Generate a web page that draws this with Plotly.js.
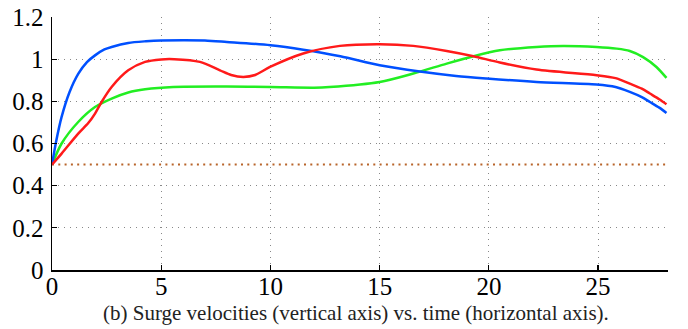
<!DOCTYPE html>
<html>
<head>
<meta charset="utf-8">
<script src="https://cdn.plot.ly/plotly-3.0.1.min.js"></script>
<style>html,body{margin:0;padding:0;background:#fff;}#chart{width:688px;height:329px;}</style>
</head>
<body>
<div id="chart"></div>
<script>
// Surge velocities vs. time
const blueT = [0, 0.2, 0.44, 0.8, 1.2, 1.6, 1.97, 2.4, 2.73, 3.49, 4.3, 5.0, 6.0, 7.0, 8.0, 10.0, 11.5, 13.2, 15.0, 16.84, 18.5, 19.9, 22.18, 24.93, 25.8, 26.45, 27.0, 27.37, 27.8, 28.13];
const blueV = [0.5, 0.615, 0.726, 0.843, 0.93, 0.986, 1.018, 1.046, 1.058, 1.077, 1.085, 1.089, 1.09, 1.089, 1.082, 1.066, 1.045, 1.014, 0.971, 0.941, 0.92, 0.908, 0.892, 0.88, 0.868, 0.845, 0.82, 0.797, 0.77, 0.745];

const redT = [0, 0.44, 1.2, 1.66, 1.97, 2.27, 2.73, 3.49, 4.26, 5.0, 5.6, 6.77, 7.69, 8.2, 8.76, 9.3, 9.98, 11.5, 13.18, 15.0, 16.54, 18.07, 19.29, 20.5, 22.18, 24.93, 25.8, 26.45, 27.0, 27.37, 27.8, 28.13];
const redV = [0.5, 0.552, 0.647, 0.697, 0.742, 0.797, 0.868, 0.947, 0.987, 0.999, 1.0, 0.987, 0.947, 0.925, 0.916, 0.925, 0.963, 1.027, 1.063, 1.071, 1.063, 1.039, 1.014, 0.984, 0.951, 0.924, 0.91, 0.884, 0.86, 0.837, 0.81, 0.786];

const greenT = [0, 0.44, 1.2, 1.97, 2.73, 3.49, 4.26, 5.55, 8.0, 10.0, 12.0, 12.7, 15.0, 16.54, 18.07, 19.29, 20.5, 22.18, 23.4, 24.93, 25.85, 26.45, 27.06, 27.67, 28.13];
const greenV = [0.5, 0.60, 0.702, 0.773, 0.813, 0.842, 0.857, 0.868, 0.87, 0.868, 0.865, 0.868, 0.892, 0.932, 0.979, 1.014, 1.042, 1.058, 1.063, 1.058, 1.05, 1.039, 1.01, 0.963, 0.911];

const refLevel = 0.5;
const xTicks = [0, 5, 10, 15, 20, 25];
const yTicks = [0, 0.2, 0.4, 0.6, 0.8, 1, 1.2];
const yTickText = ['0', '0.2', '0.4', '0.6', '0.8', '1', '1.2'];
const caption = '(b) Surge velocities (vertical axis) vs. time (horizontal axis).';

const mk = (x, y, color) => ({
  x: x, y: y, type: 'scatter', mode: 'lines',
  line: {color: color, width: 2.5, shape: 'spline', smoothing: 0.8},
  hoverinfo: 'skip', showlegend: false
});

const traces = [
  mk(greenT, greenV, '#22ee22'),
  mk(blueT, blueV, '#0050ff'),
  mk(redT, redV, '#ff1a1a')
];

const serif = 'Liberation Serif';
const tickFont = {family: serif, size: 25, color: '#000'};

const layout = {
  width: 688, height: 329,
  margin: {l: 52, r: 20, t: 17, b: 59},
  paper_bgcolor: '#fff', plot_bgcolor: '#fff',
  font: {family: serif, color: '#000'},
  showlegend: false,
  xaxis: {
    range: [0, 28.2], tickvals: xTicks, ticktext: xTicks.map(String),
    ticks: 'inside', ticklen: 5, tickcolor: '#000', tickwidth: 1.2,
    showline: true, linecolor: '#000', linewidth: 1.5, mirror: false,
    showgrid: true, gridcolor: '#888', gridwidth: 1, griddash: '1px,5px',
    zeroline: false, tickfont: tickFont, ticklabelstandoff: -7, fixedrange: true
  },
  yaxis: {
    range: [0, 1.2], tickvals: yTicks, ticktext: yTickText,
    ticks: 'inside', ticklen: 5, tickcolor: '#000', tickwidth: 1.2,
    showline: true, linecolor: '#000', linewidth: 1.5, mirror: false,
    showgrid: true, gridcolor: '#888', gridwidth: 1, griddash: '1px,5px',
    zeroline: false, tickfont: tickFont, ticklabelstandoff: 2, fixedrange: true
  },
  shapes: [{
    type: 'line', xref: 'x', yref: 'y', x0: 0, x1: 28.2, y0: refLevel, y1: refLevel,
    line: {color: '#b8642a', width: 2, dash: '2px,4.3px'}, layer: 'below'
  }],
  annotations: [{
    xref: 'paper', yref: 'paper', x: 0.493, y: -0.168, xanchor: 'center', yanchor: 'middle',
    text: caption, showarrow: false,
    font: {family: serif, size: 21, color: '#222'}
  }]
};

Plotly.newPlot('chart', traces, layout, {staticPlot: true, displayModeBar: false});
</script>
</body>
</html>
